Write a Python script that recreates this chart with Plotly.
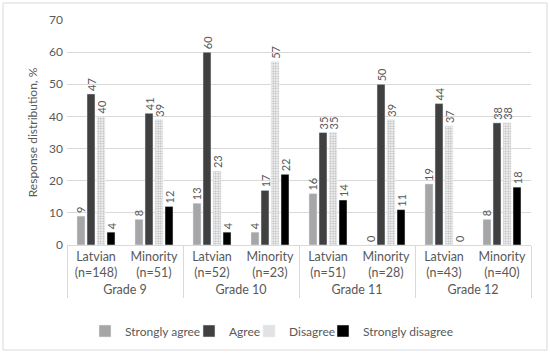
import plotly.graph_objects as go

grades = ["Grade 9", "Grade 9", "Grade 10", "Grade 10", "Grade 11", "Grade 11", "Grade 12", "Grade 12"]
groups = ["Latvian<br>(n=148)", "Minority<br>(n=51)", "Latvian<br>(n=52)", "Minority<br>(n=23)",
          "Latvian<br>(n=51)", "Minority<br>(n=28)", "Latvian<br>(n=43)", "Minority<br>(n=40)"]
strongly_agree = [9, 8, 13, 4, 16, 0, 19, 8]
agree = [47, 41, 60, 17, 35, 50, 44, 38]
disagree = [40, 39, 23, 57, 35, 39, 37, 38]
strongly_disagree = [4, 12, 4, 22, 14, 11, 0, 18]
y_ticks = [0, 10, 20, 30, 40, 50, 60, 70]

FONT = "Lato"
GREY = "#595959"
W, H = 550, 354
L, R, T, B = 67, 19, 20, 109
pw = W - L - R
ph = H - T - B


def px(v):
    return (v - L) / pw


def py(v):
    return (H - B - v) / ph


x = [grades, groups]
fig = go.Figure()
common = dict(textposition="outside", textangle=-90, cliponaxis=False, constraintext="none",
              textfont=dict(family=FONT, size=11, color=GREY))
fig.add_trace(go.Bar(name="Strongly agree", x=x, y=strongly_agree, text=strongly_agree,
                     marker=dict(color="#a6a6a6"), legend="legend", **common))
fig.add_trace(go.Bar(name="Agree", x=x, y=agree, text=agree,
                     marker=dict(color="#404040"), legend="legend2", **common))
fig.add_trace(go.Bar(name="Disagree", x=x, y=disagree, text=disagree,
                     marker=dict(color="white", pattern=dict(shape=".", fgcolor="#7a7a7a", bgcolor="white",
                                                              size=2.5, solidity=0.5)),
                     legend="legend3", **common))
fig.add_trace(go.Bar(name="Strongly disagree", x=x, y=strongly_disagree, text=strongly_disagree,
                     marker=dict(color="#000000"), legend="legend4", **common))

fig.add_shape(type="rect", xref="paper", yref="paper",
              x0=px(3), x1=px(547), y0=py(350), y1=py(3),
              line=dict(color="#d9d9d9", width=1), layer="below")


def leg(left):
    return dict(orientation="h", xref="container", yref="container",
                x=left / W, xanchor="left", y=1 - 331 / H, yanchor="middle",
                font=dict(family=FONT, size=12, color=GREY), bgcolor="rgba(0,0,0,0)",
                itemwidth=30, borderwidth=0)


fig.update_layout(
    width=W, height=H,
    margin=dict(l=L, r=R, t=T, b=B, autoexpand=False),
    paper_bgcolor="white", plot_bgcolor="white",
    barmode="group", bargap=0.31, bargroupgap=0.2,
    font=dict(family=FONT, size=12, color=GREY),
    showlegend=True,
    legend=leg(85), legend2=leg(189), legend3=leg(249), legend4=leg(323),
    yaxis=dict(range=[0, 70], tickvals=y_ticks, showgrid=True, gridcolor="#d9d9d9", gridwidth=1,
               zeroline=False, showline=False, ticks="", ticklabelstandoff=3,
               automargin=False, tickfont=dict(size=12, color=GREY),
               title=dict(text="Response distribution, %", font=dict(size=12, color=GREY), standoff=8)),
    xaxis=dict(type="multicategory", showline=True, linecolor="#d9d9d9", linewidth=1,
               showdividers=True, dividercolor="#d9d9d9", dividerwidth=1, automargin=False,
               tickfont=dict(size=12.5, color=GREY), ticks=""),
)

fig.write_html("out.html", config={"displayModeBar": False},
               post_script="document.body.style.margin='0';")
